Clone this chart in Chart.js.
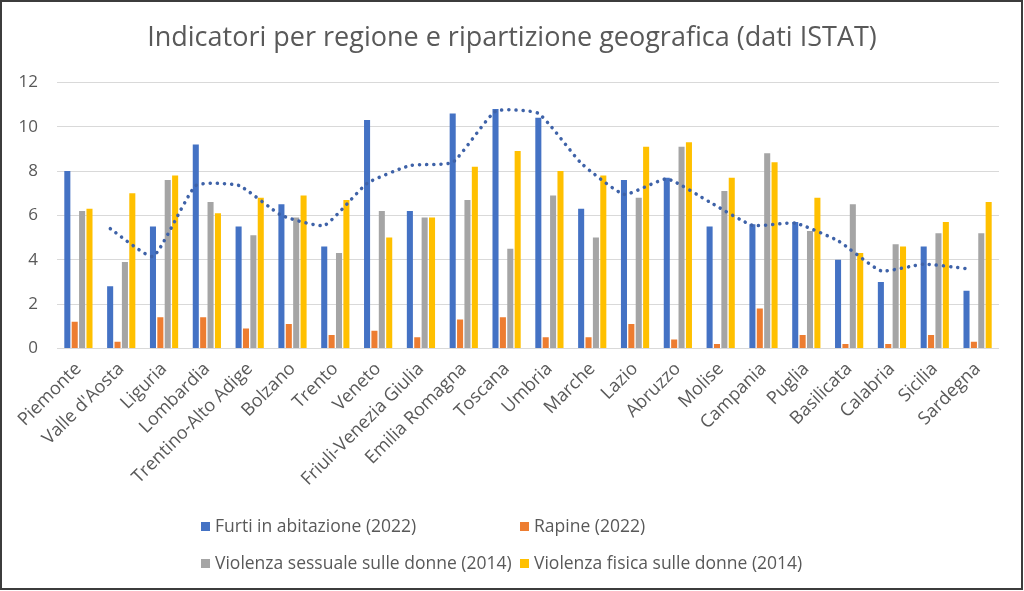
<!DOCTYPE html>
<html>
<head>
<meta charset="utf-8">
<script src="https://cdn.jsdelivr.net/npm/chart.js@4/dist/chart.umd.min.js"></script>
<style>
  html, body { margin: 0; padding: 0; background: #fff; }
  #wrap { position: relative; width: 1024px; height: 591px; overflow: hidden; }
  #c { position: absolute; left: 0; top: 0; }
  #frame { position: absolute; left: 0; top: 0; width: 1023px; height: 590px; box-sizing: border-box; border: 2px solid #3c3c3c; pointer-events: none; }
  .lg { position: absolute; font-family: 'Open Sans', sans-serif; font-size: 17.5px; color: #595959; white-space: nowrap; line-height: 24px; }
  .lg span.box { display: inline-block; width: 9px; height: 9px; margin-right: 5px; vertical-align: 1px; }
</style>
</head>
<body>
<div id="wrap">
  <canvas id="c" width="1024" height="591"></canvas>
  <div id="legend"></div>
  <div id="frame"></div>
</div>
<script>
const categories = ["Piemonte", "Valle d'Aosta", "Liguria", "Lombardia", "Trentino-Alto Adige", "Bolzano", "Trento", "Veneto", "Friuli-Venezia Giulia", "Emilia Romagna", "Toscana", "Umbria", "Marche", "Lazio", "Abruzzo", "Molise", "Campania", "Puglia", "Basilicata", "Calabria", "Sicilia", "Sardegna"];

const furti = [8.0, 2.8, 5.5, 9.2, 5.5, 6.5, 4.6, 10.3, 6.2, 10.6, 10.8, 10.4, 6.3, 7.6, 7.7, 5.5, 5.6, 5.7, 4.0, 3.0, 4.6, 2.6];
const rapine = [1.2, 0.3, 1.4, 1.4, 0.9, 1.1, 0.6, 0.8, 0.5, 1.3, 1.4, 0.5, 0.5, 1.1, 0.4, 0.2, 1.8, 0.6, 0.2, 0.2, 0.6, 0.3];
const violenzaSessuale = [6.2, 3.9, 7.6, 6.6, 5.1, 5.9, 4.3, 6.2, 5.9, 6.7, 4.5, 6.9, 5.0, 6.8, 9.1, 7.1, 8.8, 5.3, 6.5, 4.7, 5.2, 5.2];
const violenzaFisica = [6.3, 7.0, 7.8, 6.1, 6.8, 6.9, 6.7, 5.0, 5.9, 8.2, 8.9, 8.0, 7.8, 9.1, 9.3, 7.7, 8.4, 6.8, 4.3, 4.6, 5.7, 6.6];
// dotted trend line (2-period moving average of Furti)
const trendFurti = [null, 5.4, 4.15, 7.35, 7.35, 6.0, 5.55, 7.45, 8.25, 8.4, 10.7, 10.6, 8.35, 6.95, 7.65, 6.6, 5.55, 5.65, 4.85, 3.5, 3.8, 3.6];

const seriesNames = ["Furti in abitazione (2022)", "Rapine (2022)", "Violenza sessuale sulle donne (2014)", "Violenza fisica sulle donne (2014)"];
const seriesColors = ["#4472C4", "#ED7D31", "#A5A5A5", "#FFC000"];
const yTicks = { min: 0, max: 12, step: 2 };

const title = "Indicatori per regione e ripartizione geografica (dati ISTAT)";

const TEXT = '#595959';
const FONT = "'Open Sans', sans-serif";
const trendShift = -0.255;   // trend drawn over the first bar of each group, as Excel does

const barSets = [furti, rapine, violenzaSessuale, violenzaFisica].map((d, i) => ({
  type: 'bar',
  label: seriesNames[i],
  data: d.map((v, k) => ({ x: k, y: v })),
  backgroundColor: seriesColors[i],
  borderWidth: 0,
  categoryPercentage: 0.69,
  barPercentage: 0.82,
  order: 2
}));

const trendPoints = [];
trendFurti.forEach((v, i) => { if (v !== null) trendPoints.push({ x: i + trendShift, y: v }); });

// give the y tick labels room to the left (labels are clipped to the axis box)
const yLabelRoom = {
  id: 'yLabelRoom',
  afterLayout(chart) { chart.scales.y.left = 0; }
};

const chart = new Chart(document.getElementById('c'), {
  type: 'bar',
  data: {
    datasets: [...barSets, {
      type: 'line',
      label: 'trend',
      data: trendPoints,
      borderColor: '#3E62A8',
      borderWidth: 3.5,
      borderDash: [0.1, 7],
      borderCapStyle: 'round',
      pointRadius: 0,
      tension: 0.15,
      fill: false,
      order: 0
    }]
  },
  plugins: [yLabelRoom],
  options: {
    responsive: false,
    animation: false,
    devicePixelRatio: 1,
    layout: { padding: { left: 25, right: 25, top: 12, bottom: 99 } },
    plugins: {
      legend: { display: false },
      tooltip: { enabled: false },
      title: {
        display: true,
        text: title,
        color: TEXT,
        font: { family: FONT, size: 27, weight: 'normal' },
        padding: { top: 10, bottom: 28 }
      }
    },
    scales: {
      x: {
        type: 'linear',
        offset: false,
        min: -0.5,
        max: categories.length - 0.5,
        grid: { display: false },
        border: { display: false },
        afterBuildTicks: (scale) => { scale.ticks = categories.map((c, i) => ({ value: i })); },
        ticks: {
          color: TEXT, font: { family: FONT, size: 18 }, maxRotation: 45, minRotation: 45, autoSkip: false, padding: 2,
          callback: (v) => categories[v]
        }
      },
      y: {
        min: yTicks.min,
        max: yTicks.max,
        afterFit: (scale) => { scale.width = 32; },
        ticks: { stepSize: yTicks.step, color: TEXT, font: { family: FONT, size: 17 }, padding: 19 },
        grid: { color: '#D9D9D9', drawTicks: false, lineWidth: 1 },
        border: { display: false }
      }
    }
  }
});

// legend in two columns, as in the reference
const legendEl = document.getElementById('legend');
const legendPos = [[201, 513], [520, 513], [201, 550], [520, 550]];
chart.data.datasets.filter(d => d.type === 'bar').forEach((d, i) => {
  const item = document.createElement('div');
  item.className = 'lg';
  item.style.left = legendPos[i][0] + 'px';
  item.style.top = legendPos[i][1] + 'px';
  const box = document.createElement('span');
  box.className = 'box';
  box.style.background = d.backgroundColor;
  item.appendChild(box);
  item.appendChild(document.createTextNode(d.label));
  legendEl.appendChild(item);
});
</script>
</body>
</html>
